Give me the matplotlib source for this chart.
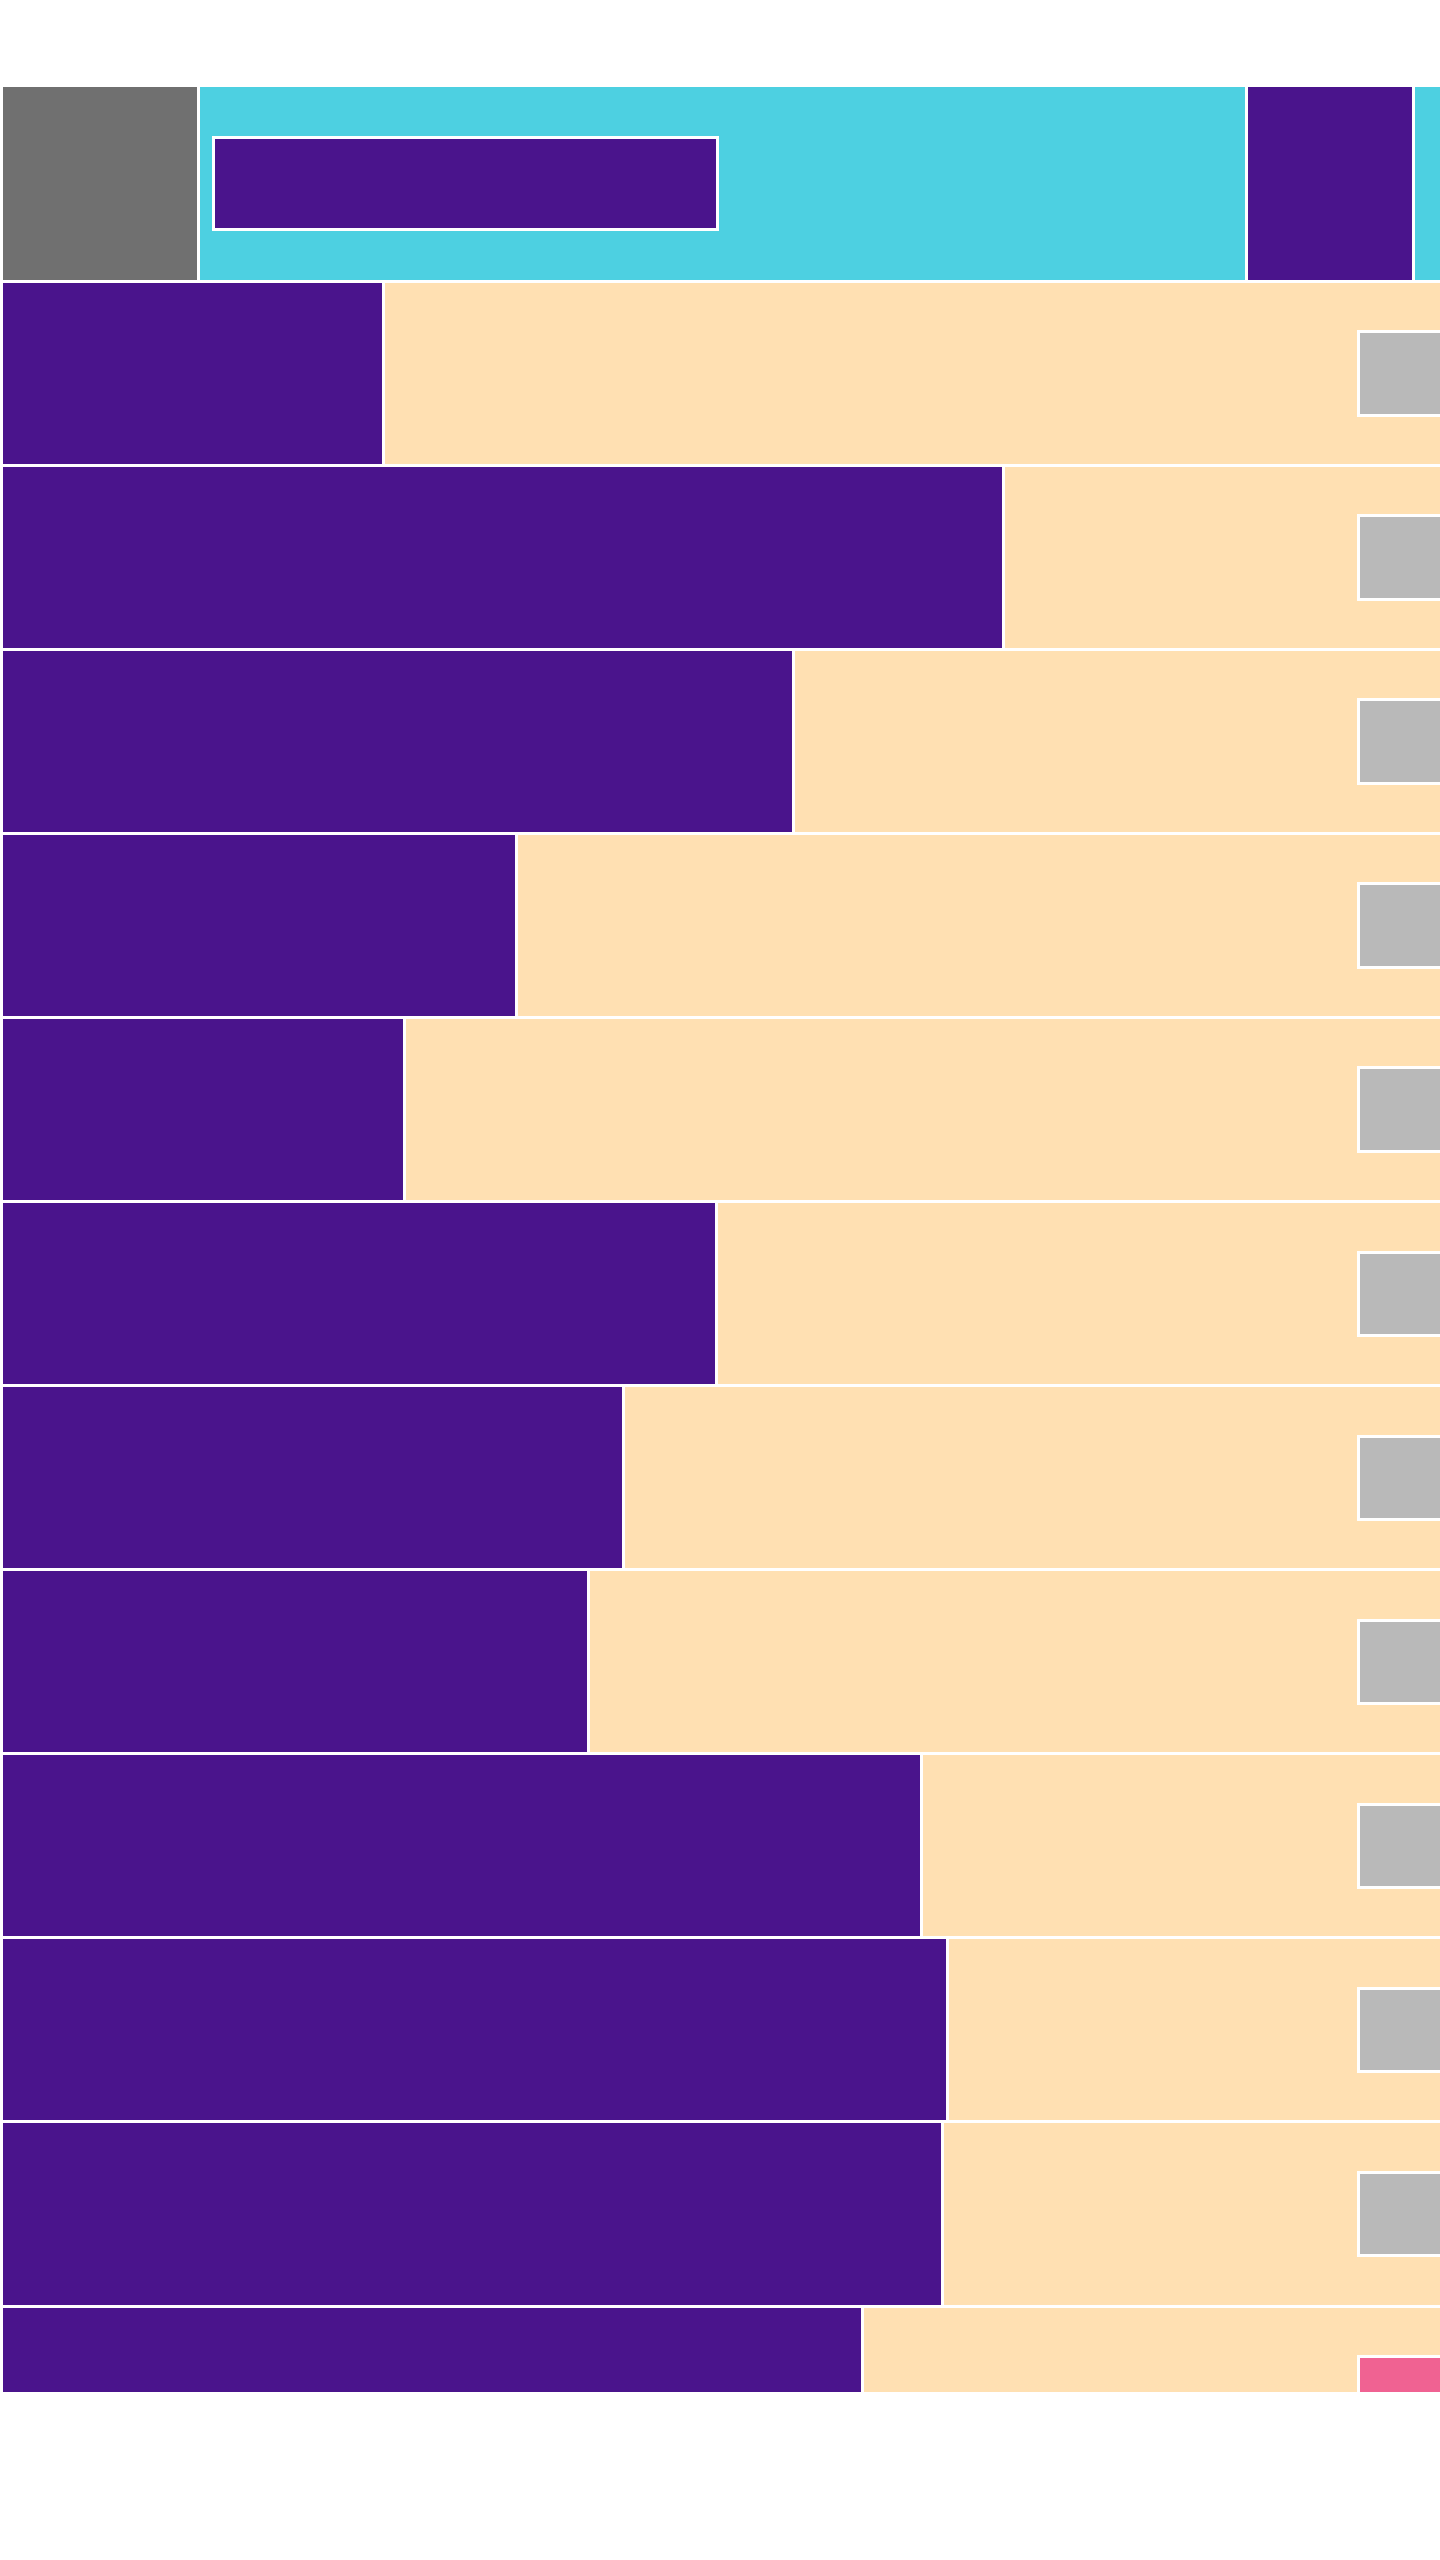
import matplotlib

matplotlib.use("Agg")
import matplotlib.pyplot as plt
import numpy as np

# ---- data (x in % of the plot width) ----
rows = np.arange(1, 13)
purple_share = [26.5, 69.6, 55.0, 35.8, 28.0, 49.7, 43.2, 40.8, 63.9, 65.7, 65.4, 59.8]
row_total = 108.0
marker_start = 94.27
marker_colors = ["#B9B9B9"] * 11 + ["#F06292"]

# header row: gray, cyan, purple, cyan segments
header_segments = [13.64, 72.84, 11.67, 10.0]
header_colors = ["#707070", "#4DD0E1", "#4A148C", "#4DD0E1"]
header_center, header_height = -0.032, 1.064
inset_left, inset_width, inset_height = 14.69, 35.07, 0.505

PURPLE = "#4A148C"
PEACH = "#FFE0B2"
EDGE_LW = 1.08  # ~3 px at 200 dpi

fig = plt.figure(figsize=(7.2, 12.8), dpi=200)
ax = fig.add_axes([0.001, 0.065625, 0.999, 0.901])

# header row
lefts = np.concatenate([[0], np.cumsum(header_segments)[:-1]])
ax.barh(header_center, header_segments, left=lefts, height=header_height,
        color=header_colors, edgecolor="white", linewidth=EDGE_LW)
ax.barh(-0.034, inset_width, left=inset_left, height=inset_height,
        color=PURPLE, edgecolor="white", linewidth=EDGE_LW)

# body rows: purple share + peach remainder
purple = np.asarray(purple_share)
ax.barh(rows, purple, height=1.0, color=PURPLE, edgecolor="white", linewidth=EDGE_LW)
ax.barh(rows, row_total - purple, left=purple, height=1.0,
        color=PEACH, edgecolor="white", linewidth=EDGE_LW)

# markers on the right edge
ax.barh(rows, 10, left=marker_start, height=0.455,
        color=marker_colors, edgecolor="white", linewidth=EDGE_LW)

ax.set_xlim(0, 100)
ax.set_ylim(11.97, -0.564)
ax.axis("off")

fig.savefig("out.png", dpi=200, facecolor="white")
